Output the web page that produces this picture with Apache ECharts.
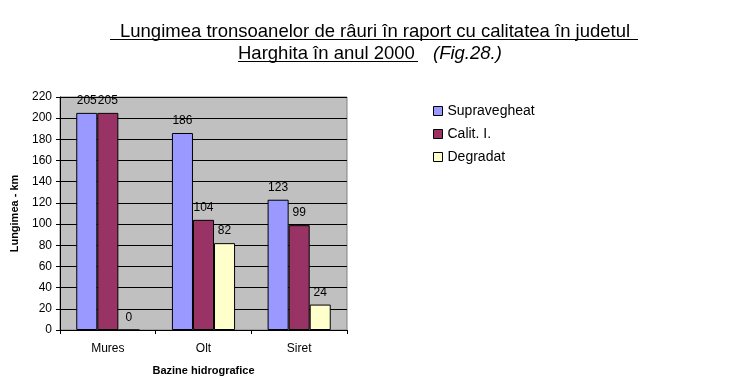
<!DOCTYPE html>
<html><head><meta charset="utf-8">
<script src="https://cdn.jsdelivr.net/npm/echarts@6/dist/echarts.min.js"></script>
<style>html,body{margin:0;padding:0;background:#fff}#c{width:744px;height:390px}</style>
</head><body><div id="c"></div>
<script>
const categories = ['Mures', 'Olt', 'Siret'];
const supravegheat = [205, 186, 123];
const calit = [205, 104, 99];
const degradat = [0, 82, 24];
const yTicks = [0, 20, 40, 60, 80, 100, 120, 140, 160, 180, 200, 220];

const chart = echarts.init(document.getElementById('c'), null, {renderer: 'canvas'});
const font = 'Arial, "Liberation Sans", sans-serif';
const lbl = {show: true, position: 'top', color: '#000', fontFamily: font, fontSize: 12, distance: 6};
function bar(name, data, color) {
  return {name, type: 'bar', data, barGap: '0%', barCategoryGap: '34%',
    itemStyle: {color, borderColor: '#000', borderWidth: 1}, label: lbl};
}
chart.setOption({
  animation: false,
  backgroundColor: '#fff',
  textStyle: {fontFamily: font},
  grid: {left: 60, right: 397, top: 97, bottom: 60, show: true, backgroundColor: '#C0C0C0', borderColor: '#808080', borderWidth: 1},
  legend: {orient: 'vertical', left: 428, top: 99, itemWidth: 9, itemHeight: 9, itemGap: 9,
    icon: 'rect', textStyle: {fontSize: 14, color: '#000', fontFamily: font},
    itemStyle: {borderColor: '#000', borderWidth: 1}},
  xAxis: {type: 'category', data: categories,
    name: 'Bazine hidrografice', nameLocation: 'middle', nameGap: 35,
    nameTextStyle: {fontWeight: 'bold', fontSize: 11, color: '#000', fontFamily: font},
    axisLine: {lineStyle: {color: '#000'}}, axisTick: {show: true, length: 4, lineStyle: {color: '#000'}},
    axisLabel: {color: '#000', fontSize: 12, margin: 13, fontFamily: font}},
  yAxis: {type: 'value', min: 0, max: 220, interval: 20,
    name: 'Lungimea - km', nameLocation: 'middle', nameGap: 40,
    nameTextStyle: {fontWeight: 'bold', fontSize: 11, color: '#000', fontFamily: font},
    axisLine: {show: true, lineStyle: {color: '#000'}}, axisTick: {show: true, length: 4, lineStyle: {color: '#000'}},
    axisLabel: {color: '#000', fontSize: 12, margin: 8, fontFamily: font,
      formatter: v => yTicks.includes(v) ? String(v) : ''},
    splitLine: {lineStyle: {color: '#000'}}},
  series: [
    bar('Supravegheat', supravegheat, '#9999FF'),
    bar('Calit. I.', calit, '#993366'),
    bar('Degradat', degradat, '#FFFFCC')
  ],
  graphic: [
    {type: 'text', left: 120, top: 22, style: {text: 'Lungimea tronsoanelor de râuri în raport cu calitatea în judetul', font: '18.5px ' + font, fill: '#000'}},
    {type: 'line', shape: {x1: 110, y1: 39.5, x2: 638, y2: 39.5}, style: {stroke: '#000', lineWidth: 1}},
    {type: 'text', left: 238, top: 44, style: {text: 'Harghita în anul 2000', font: '18.5px ' + font, fill: '#000'}},
    {type: 'line', shape: {x1: 238, y1: 61.5, x2: 418, y2: 61.5}, style: {stroke: '#000', lineWidth: 1}},
    {type: 'text', left: 433, top: 44, style: {text: '(Fig.28.)', font: 'italic 18.5px ' + font, fill: '#000'}}
  ]
});
</script></body></html>
